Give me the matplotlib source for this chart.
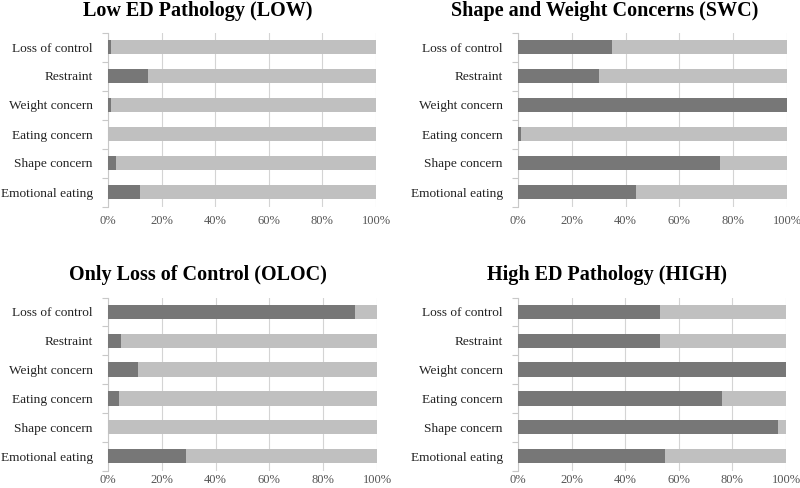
import matplotlib
matplotlib.use("Agg")
import matplotlib.pyplot as plt
import numpy as np

categories = ["Loss of control", "Restraint", "Weight concern",
              "Eating concern", "Shape concern", "Emotional eating"]
titles = ["Low ED Pathology (LOW)", "Shape and Weight Concerns (SWC)",
          "Only Loss of Control (OLOC)", "High ED Pathology (HIGH)"]
low = [1, 15, 1, 0, 3, 12]
swc = [35, 30, 100, 1, 75, 44]
oloc = [92, 5, 11, 4, 0, 29]
high = [53, 53, 100, 76, 97, 55]
xticks = [0, 20, 40, 60, 80, 100]
xticklabels = ["0%", "20%", "40%", "60%", "80%", "100%"]

series = [low, swc, oloc, high]

plt.rcParams['font.family'] = ['Liberation Serif', 'DejaVu Serif']

W, H = 800, 488
fig = plt.figure(figsize=(8, 4.88), dpi=100)

# axes boxes in pixel coords: (x0, x1, ytop, ybottom)
boxes = [(108, 376, 32.5, 206.5), (518, 787, 32.5, 206.5),
         (108, 377, 297.5, 470.5), (518, 786, 297.5, 470.5)]
title_pos = [(198, 11), (605, 11), (198, 275), (607, 275)]
xpads = [6, 6, 2.5, 2.5]

dark = "#777777"
light = "#c0c0c0"

for i, vals in enumerate(series):
    x0, x1, yt, yb = boxes[i]
    ax = fig.add_axes([x0 / W, 1 - yb / H, (x1 - x0) / W, (yb - yt) / H])
    y = np.arange(len(categories))
    vals = np.array(vals, dtype=float)
    ax.barh(y, vals, height=0.5, color=dark, zorder=3)
    ax.barh(y, 100 - vals, left=vals, height=0.5, color=light, zorder=3)
    ax.set_ylim(len(categories) - 0.5, -0.5)
    ax.set_xlim(0, 100)
    ax.set_yticks(y)
    ax.set_yticklabels(categories, fontsize=9.6, color="#222222")
    ax.set_yticks(np.arange(-0.5, len(categories), 1), minor=True)
    ax.tick_params(axis='y', which='major', length=0, pad=11)
    ax.tick_params(axis='y', which='minor', length=4, color="#c8c8c8", width=0.8)
    ax.set_xticks(xticks)
    ax.set_xticklabels(xticklabels, fontsize=9, color="#555555")
    ax.tick_params(axis='x', length=0, pad=xpads[i])
    ax.grid(axis='x', color="#d4d4d4", linewidth=0.8, zorder=0)
    for s in ['top', 'right', 'bottom']:
        ax.spines[s].set_visible(False)
    ax.spines['left'].set_color("#c8c8c8")
    ax.spines['left'].set_linewidth(0.8)
    tx, ty = title_pos[i]
    fig.text(tx / W, 1 - ty / H, titles[i], ha='center', va='center',
             fontsize=14.5, fontweight='bold')

fig.savefig("out.png", dpi=100)
